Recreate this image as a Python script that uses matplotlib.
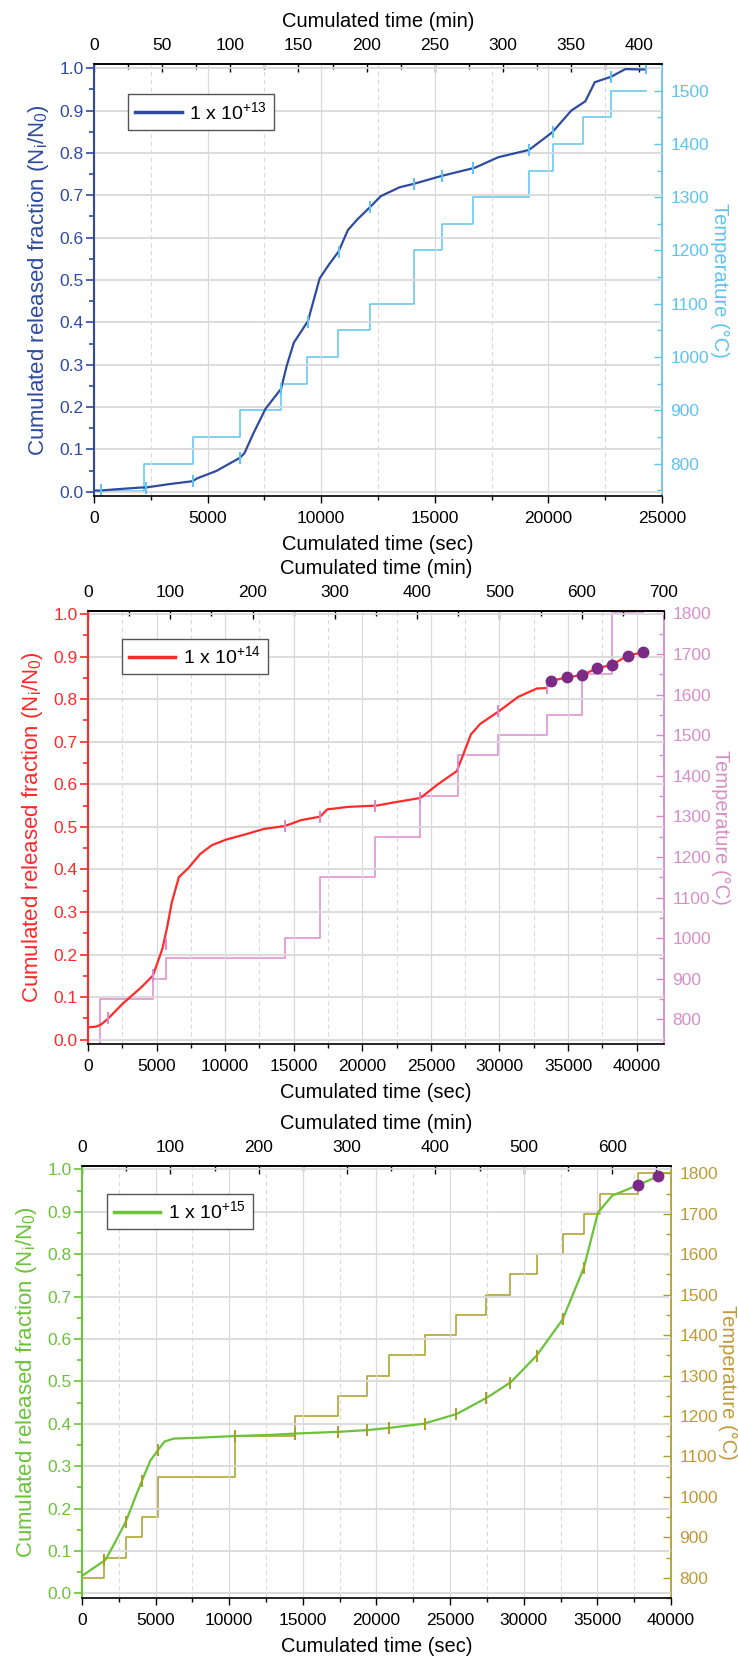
"""Cumulated released fraction vs time for three fluences, with temperature steps."""
import matplotlib

matplotlib.use("Agg")
import matplotlib.pyplot as plt
from matplotlib.ticker import MultipleLocator

plt.rcParams["font.family"] = ["Liberation Sans", "DejaVu Sans"]
plt.rcParams["mathtext.fontset"] = "custom"
plt.rcParams["mathtext.rm"] = "Liberation Sans"
plt.rcParams["mathtext.default"] = "regular"

# ---- 1e13 ----
t13 = [0, 300, 1000, 2070, 2277, 3300, 4346, 4553, 5380, 6414, 6620, 7034, 7550, 8233, 8480, 8795,
       9416, 9934, 10348, 10762, 11176, 11590, 12148, 12624, 13452, 14073, 15315, 16763, 17798,
       19143, 20178, 21006, 21627, 22041, 22765, 23386, 24214]
frac13 = [0.003, 0.003, 0.006, 0.010, 0.010, 0.018, 0.025, 0.032, 0.049, 0.080, 0.091, 0.140, 0.196,
          0.243, 0.297, 0.352, 0.403, 0.504, 0.537, 0.567, 0.618, 0.643, 0.672, 0.698, 0.719, 0.727,
          0.746, 0.765, 0.790, 0.807, 0.849, 0.900, 0.922, 0.967, 0.980, 0.998, 0.997]
temp_t13 = [0, 2215, 4346, 6414, 8233, 9354, 10720, 12169, 14073, 15315, 16701, 19143, 20220, 21523,
            22765, 24317]
temp13 = [748, 800, 850, 900, 950, 1000, 1050, 1100, 1200, 1250, 1300, 1350, 1400, 1450, 1500, 1500]
mark_t13 = [300, 2277, 4346, 6414, 8233, 9416, 10762, 12169, 14073, 15315, 16701, 19143, 20220,
            22765, 24317]
mark_f13 = [0.003, 0.010, 0.025, 0.080, 0.243, 0.400, 0.567, 0.672, 0.727, 0.746, 0.765, 0.807,
            0.850, 0.980, 1.000]

# ---- 1e14 ----
t14 = [0, 618, 961, 1477, 2507, 3880, 4739, 5426, 5769, 6112, 6628, 7315, 8173, 9031, 10062, 11435,
       12809, 14354, 15556, 16929, 17445, 18990, 21050, 22424, 24244, 25515, 26888, 27231, 27918,
       28605, 29979, 31352, 32726, 33413, 33756, 34958, 36057, 37087, 38220, 39353, 40452]
frac14 = [0.029, 0.031, 0.036, 0.050, 0.084, 0.123, 0.151, 0.214, 0.264, 0.323, 0.382, 0.403, 0.436,
          0.457, 0.470, 0.482, 0.495, 0.502, 0.516, 0.524, 0.541, 0.547, 0.550, 0.558, 0.568, 0.600,
          0.631, 0.659, 0.717, 0.742, 0.772, 0.805, 0.825, 0.826, 0.843, 0.851, 0.857, 0.872, 0.881,
          0.902, 0.910]
temp_t14 = [900, 900, 4739, 5666, 14354, 16929, 20947, 24244, 26991, 29876, 33482, 36057, 38220,
            40452]
temp14 = [740, 850, 900, 950, 1000, 1150, 1250, 1350, 1450, 1500, 1550, 1650, 1800, 1800]
mark_t14 = [1477, 4739, 5666, 14354, 16929, 20947, 24244, 26991, 29876, 33482, 36057, 38220]
mark_f14 = [0.050, 0.151, 0.225, 0.502, 0.524, 0.550, 0.568, 0.640, 0.772, 0.826, 0.857, 0.881]
dots_t14 = [33756, 34958, 36057, 37087, 38220, 39353, 40452]
dots_f14 = [0.843, 0.851, 0.857, 0.872, 0.881, 0.902, 0.910]

# ---- 1e15 ----
t15 = [0, 1600, 2240, 2976, 3680, 4160, 4640, 5120, 5600, 6240, 7840, 10400, 12960, 14560, 17440,
       19360, 20800, 23200, 25440, 27520, 29120, 30880, 32640, 34080, 35040, 36000, 37760, 39136]
frac15 = [0.041, 0.079, 0.120, 0.169, 0.232, 0.273, 0.313, 0.336, 0.358, 0.365, 0.367, 0.371, 0.374,
          0.377, 0.381, 0.385, 0.390, 0.400, 0.423, 0.462, 0.498, 0.561, 0.646, 0.768, 0.898, 0.938,
          0.963, 0.984]
temp_t15 = [0, 1504, 2976, 4064, 5184, 10400, 14496, 17376, 19360, 20864, 23296, 25376, 27456, 29056,
            30880, 32640, 34080, 35200, 37760, 40000]
temp15 = [800, 850, 900, 950, 1050, 1150, 1200, 1250, 1300, 1350, 1400, 1450, 1500, 1550, 1600, 1650,
          1700, 1750, 1800, 1800]
mark_t15 = [1504, 2976, 4064, 5184, 10400, 14496, 17376, 19360, 20864, 23296, 25376, 27456, 29056,
            30880, 32640, 34080]
mark_f15 = [0.078, 0.169, 0.265, 0.338, 0.371, 0.377, 0.381, 0.385, 0.390, 0.400, 0.423, 0.461,
            0.497, 0.561, 0.646, 0.768]
dots_t15 = [37760, 39136]
dots_f15 = [0.963, 0.984]

W, H = 738, 1659
TICK = 12.5
LAB = 14.5
DOT = "#7b2a85"


def draw_panel(fig, px, t, frac, temp_t, temp, mark_t, mark_f, dots_t, dots_f, cfg):
    """Draw one Origin-like panel; px = (left, top, right, bottom) in pixels."""
    left, top, right, bottom = px
    ax = fig.add_axes([left / W, 1 - bottom / H, (right - left) / W, (bottom - top) / H])
    ax2 = ax.twinx()
    ax.set_zorder(ax2.get_zorder() + 1)
    ax.patch.set_visible(False)

    # temperature on right axis
    ax2.plot(temp_t, temp, drawstyle="steps-post", color=cfg["tcol"], lw=1.1)
    ax2.set_ylim(*cfg["tlim"])
    ax2.yaxis.set_minor_locator(MultipleLocator(50))
    ax2.set_yticks(list(range(800, int(cfg["tlim"][1]) + 1, 100)))
    ax2.tick_params(axis="y", which="both", direction="in", colors=cfg["tcol"],
                    labelcolor=cfg["tlab"], labelsize=TICK, pad=6)
    ax2.tick_params(axis="y", which="major", length=6, width=1)
    ax2.tick_params(axis="y", which="minor", length=3.5, width=1)
    ax2.set_ylabel("Temperature (°C)", color=cfg["tlab"], fontsize=LAB, rotation=270,
                   labelpad=cfg["tpad"], va="bottom")
    for s in ("left", "top", "bottom"):
        ax2.spines[s].set_visible(False)
    ax2.spines["right"].set_color(cfg["tcol"])
    ax2.spines["right"].set_linewidth(1.3)

    # release fraction on left axis
    ax.grid(True, which="major", axis="y", color="#d9d9d9", lw=1.3)
    ax.grid(True, which="major", axis="x", color="#d9d9d9", lw=0.9)
    ax.grid(True, which="minor", axis="x", color="#d9d9d9", lw=0.8, ls=(0, (4, 3)))
    ax.plot(t, frac, color=cfg["col"], lw=1.6, label=cfg["label"])
    ax.plot(mark_t, mark_f, ls="none", marker="|", ms=9, mew=1.4, color=cfg["tcol"])
    if dots_t:
        ax.plot(dots_t, dots_f, ls="none", marker="o", ms=7.5, color=DOT)
    ax.set_xlim(0, cfg["xmax"])
    ax.set_ylim(*cfg["ylim"])
    ax.xaxis.set_major_locator(MultipleLocator(5000))
    ax.xaxis.set_minor_locator(MultipleLocator(2500))
    ax.yaxis.set_major_locator(MultipleLocator(0.1))
    ax.yaxis.set_minor_locator(MultipleLocator(0.05))
    ax.yaxis.set_major_formatter(lambda v, p: f"{v:.1f}")
    ax.tick_params(axis="y", which="both", direction="out", colors=cfg["col"],
                   labelsize=TICK, pad=1.5)
    ax.tick_params(axis="y", which="major", length=6, width=1.2)
    ax.tick_params(axis="y", which="minor", length=3.5, width=1.2)
    ax.tick_params(axis="x", which="both", direction="out", labelsize=TICK, pad=6, top=False)
    ax.tick_params(axis="x", which="major", length=5, width=1)
    ax.tick_params(axis="x", which="minor", length=3, width=1)
    ax.set_xlabel("Cumulated time (sec)", fontsize=LAB, labelpad=6)
    ax.set_ylabel("Cumulated released fraction (N$_i$/N$_0$)", color=cfg["col"], fontsize=16,
                  labelpad=6)
    ax.spines["left"].set_color(cfg["col"])
    ax.spines["left"].set_linewidth(1.5)
    ax.spines["right"].set_visible(False)
    for s in ("top", "bottom"):
        ax.spines[s].set_linewidth(1.2)

    # minutes on top axis, ticks kept inside the range
    mmax = cfg["xmax"] / 60
    sec = ax.secondary_xaxis("top", functions=(lambda x: x / 60, lambda m: m * 60))
    step = cfg["mmaj"]
    sec.set_xticks([m for m in range(0, int(mmax) + 1, step)])
    sec.set_xticks([m + step / 2 for m in range(0, int(mmax), step) if m + step / 2 <= mmax],
                   minor=True)
    sec.tick_params(which="both", direction="in", labelsize=TICK, pad=8)
    sec.tick_params(which="major", length=6, width=1)
    sec.tick_params(which="minor", length=3.5, width=1)
    sec.spines["top"].set_linewidth(1.2)
    sec.set_xlabel("Cumulated time (min)", fontsize=LAB, labelpad=8)

    leg = ax.legend(loc="upper left", bbox_to_anchor=cfg["leg"], fontsize=14, frameon=True,
                    fancybox=False, framealpha=1, edgecolor="#555555", handlelength=2.4,
                    handletextpad=0.4, borderpad=0.35, borderaxespad=0)
    leg.get_frame().set_linewidth(1.0)
    for ln in leg.get_lines():
        ln.set_linewidth(2.5)
    return ax


fig = plt.figure(figsize=(W / 100, H / 100), dpi=100)

draw_panel(fig, (94, 64, 662, 496), t13, frac13, temp_t13, temp13, mark_t13, mark_f13, [], [],
           dict(col="#2f4b9f", tcol="#5ec3f0", tlab="#5ec3f0", label="1 x 10$^{+13}$",
                xmax=25000, ylim=(-0.01, 1.01), tlim=(739, 1550), mmaj=50, leg=(0.06, 0.93),
                tpad=1))
draw_panel(fig, (88, 611, 664, 1044), t14, frac14, temp_t14, temp14, mark_t14, mark_f14,
           dots_t14, dots_f14,
           dict(col="#ff2a2a", tcol="#dc8ad0", tlab="#d88fc9", label="1 x 10$^{+14}$",
                xmax=42000, ylim=(-0.01, 1.007), tlim=(739, 1806), mmaj=100, leg=(0.059, 0.936),
                tpad=0))
draw_panel(fig, (82, 1166, 671, 1598), t15, frac15, temp_t15, temp15, mark_t15, mark_f15,
           dots_t15, dots_f15,
           dict(col="#6cc23a", tcol="#aa9e22", tlab="#bf9a3a", label="1 x 10$^{+15}$",
                xmax=40000, ylim=(-0.011, 1.008), tlim=(750, 1818), mmaj=100, leg=(0.042, 0.936),
                tpad=0))

fig.savefig("out.png", dpi=100)
